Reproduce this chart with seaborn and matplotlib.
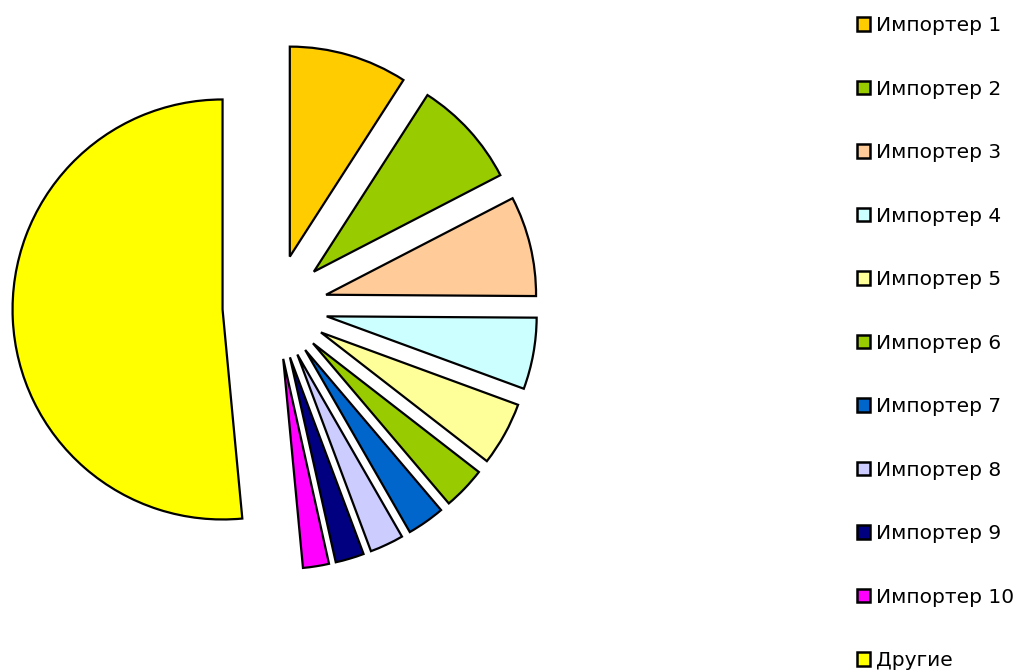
import numpy as np
import matplotlib
matplotlib.use("Agg")
import matplotlib.pyplot as plt
import seaborn as sns
from matplotlib.patches import Patch

labels = ["Импортер 1", "Импортер 2", "Импортер 3", "Импортер 4", "Импортер 5",
          "Импортер 6", "Импортер 7", "Импортер 8", "Импортер 9", "Импортер 10",
          "Другие"]
shares = [9.1, 8.3, 7.7, 5.5, 4.9, 3.3, 2.9, 2.6, 2.2, 2.0, 51.5]
colors = ["#FFCC00", "#99CC00", "#FFCC99", "#CCFFFF", "#FFFF99", "#99CC00",
          "#0066CC", "#CCCCFF", "#000080", "#FF00FF", "#FFFF00"]

sns.set_style("white")
plt.rcParams["font.family"] = ["Verdana", "DejaVu Sans"]
plt.rcParams["text.color"] = "black"

fig = plt.figure(figsize=(10.24, 6.71), dpi=100)
ax = fig.add_axes([0, 0, 1, 1])

ax.pie(shares, colors=colors, startangle=90, counterclock=False,
       explode=[0.25] * len(shares),
       wedgeprops=dict(edgecolor="black", linewidth=1.6, joinstyle="miter"))

# pie centre at (275, 307) px, radius 210 px
r = 210.0
ax.set_xlim(-275 / r, (1024 - 275) / r)
ax.set_ylim((307 - 671) / r, 307 / r)
ax.set_aspect("auto")
ax.axis("off")

handles = [Patch(facecolor=c, edgecolor="black", linewidth=1.8) for c in colors]
leg = fig.legend(handles, labels, loc="upper left", bbox_to_anchor=(857 / 1024, 1 - 16 / 671),
                 frameon=False, fontsize=14.5, handlelength=0.65, handleheight=0.65,
                 handletextpad=0.3, labelspacing=2.21, borderaxespad=0, borderpad=0)
for t in leg.get_texts():
    t.set_color("black")

fig.savefig("out.png", dpi=100)
plt.close()
